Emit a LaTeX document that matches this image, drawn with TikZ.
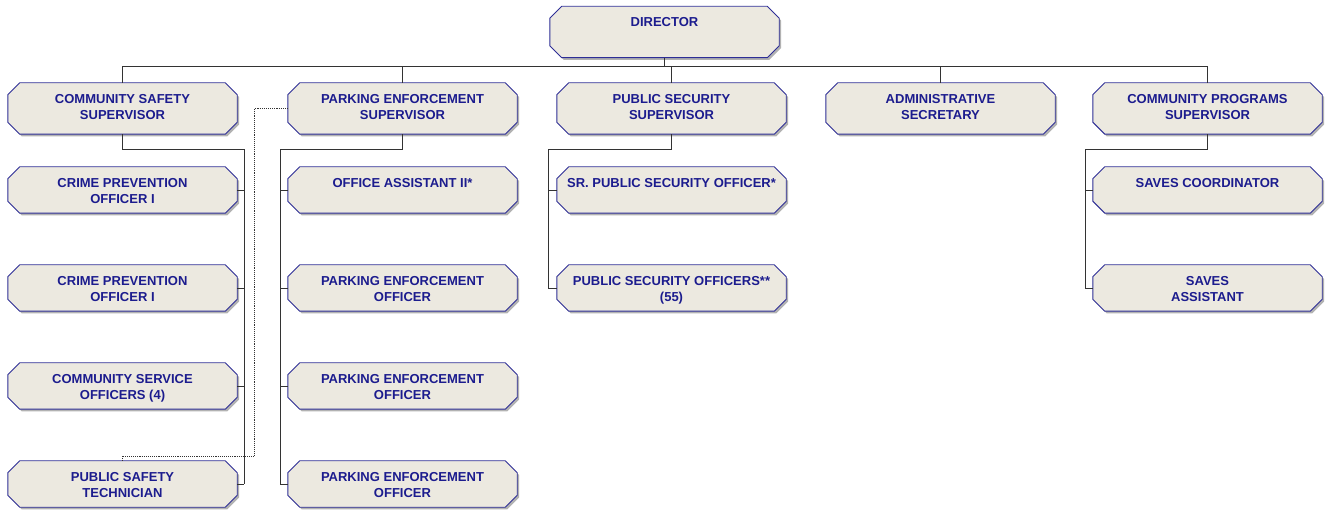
\documentclass[tikz,border=0pt]{standalone}
\usepackage{fontspec}
\setmainfont{Liberation Sans}

\definecolor{postfill}{HTML}{ECE9E0}
\definecolor{postline}{HTML}{2E2E96}
\definecolor{posttext}{HTML}{1C1C8E}

\begin{document}
\begin{tikzpicture}[
    x=1pt, y=-1pt,
    post/.style={rectangle, minimum width=229pt, minimum height=46pt, inner sep=0pt},
    head/.style={post, minimum height=51pt},
    postbox/.style={draw=postline, line width=0.9pt, fill=postfill},
    postshadow/.style={fill=black!30, transform canvas={xshift=2pt, yshift=-2.2pt}},
    title/.style={anchor=north, inner sep=0pt, yshift=-11pt, align=center, text=posttext,
      font=\fontsize{13}{16}\selectfont\bfseries},
    link/.style={draw=black!80, line width=0.9pt},
    dotlink/.style={link, densely dotted}
  ]
    \useasboundingbox (0,0) rectangle (1326,510);

    % Director and supervisors
    \node[head] (dir) at (664.5,32) {};
    \node[head] (css) at (122.5,108.5) {};
    \node[head] (pes) at (402.5,108.5) {};
    \node[head] (pss) at (671.5,108.5) {};
    \node[head] (adm) at (940.5,108.5) {};
    \node[head] (cps) at (1207.5,108.5) {};

    % Staff, column by column
    \node[post] (cpo1) at (122.5,190) {};
    \node[post] (cpo2) at (122.5,288) {};
    \node[post] (cso)  at (122.5,386) {};
    \node[post] (pst)  at (122.5,484) {};
    \node[post] (oa)   at (402.5,190) {};
    \node[post] (peo1) at (402.5,288) {};
    \node[post] (peo2) at (402.5,386) {};
    \node[post] (peo3) at (402.5,484) {};
    \node[post] (spso) at (671.5,190) {};
    \node[post] (pso)  at (671.5,288) {};
    \node[post] (sc)   at (1207.5,190) {};
    \node[post] (sa)   at (1207.5,288) {};

    % Octagon boxes with shadow
    \foreach \n in {dir,css,pes,pss,adm,cps,cpo1,cpo2,cso,pst,oa,peo1,peo2,peo3,spso,pso,sc,sa} {
      \foreach \s in {postshadow,postbox}
        \path[\s] ([xshift=12pt]\n.north west) -- ([xshift=-12pt]\n.north east)
          -- ([yshift=-12pt]\n.north east) -- ([yshift=12pt]\n.south east)
          -- ([xshift=-12pt]\n.south east) -- ([xshift=12pt]\n.south west)
          -- ([yshift=12pt]\n.south west) -- ([yshift=-12pt]\n.north west) -- cycle;
    }

    % Titles
    \foreach \n/\t in {dir/DIRECTOR,
        css/{COMMUNITY SAFETY\\SUPERVISOR}, pes/{PARKING ENFORCEMENT\\SUPERVISOR},
        pss/{PUBLIC SECURITY\\SUPERVISOR}, adm/{ADMINISTRATIVE\\SECRETARY},
        cps/{COMMUNITY PROGRAMS\\SUPERVISOR},
        cpo1/{CRIME PREVENTION\\OFFICER I}, cpo2/{CRIME PREVENTION\\OFFICER I},
        cso/{COMMUNITY SERVICE\\OFFICERS (4)}, pst/{PUBLIC SAFETY\\TECHNICIAN},
        oa/{OFFICE ASSISTANT II*}, peo1/{PARKING ENFORCEMENT\\OFFICER},
        peo2/{PARKING ENFORCEMENT\\OFFICER}, peo3/{PARKING ENFORCEMENT\\OFFICER},
        spso/{SR. PUBLIC SECURITY OFFICER*}, pso/{PUBLIC SECURITY OFFICERS**\\(55)},
        sc/{SAVES COORDINATOR}, sa/{SAVES\\ASSISTANT}}
      \node[title] (\n-t) at (\n.north) {\t};

    % Director to supervisors
    \coordinate (topbus) at (0,66);
    \draw[link] (dir.south) -- (dir.south |- topbus);
    \draw[link] (css.north) -- (css.north |- topbus) -- (cps.north |- topbus) -- (cps.north);
    \foreach \n in {pes,pss,adm}
      \draw[link] (\n.north) -- (\n.north |- topbus);

    % Supervisors to staff
    \coordinate (cssbus) at (244,149);
    \draw[link] (css.south) |- (cssbus) -- (cssbus |- pst.east);
    \foreach \n in {cpo1,cpo2,cso,pst}
      \draw[link] (\n.east) -- (\n.east -| cssbus);

    \coordinate (pesbus) at (280,149);
    \draw[link] (pes.south) |- (pesbus) -- (pesbus |- peo3.west);
    \foreach \n in {oa,peo1,peo2,peo3}
      \draw[link] (\n.west) -- (\n.west -| pesbus);

    \coordinate (pssbus) at (548,149);
    \draw[link] (pss.south) |- (pssbus) -- (pssbus |- pso.west);
    \foreach \n in {spso,pso}
      \draw[link] (\n.west) -- (\n.west -| pssbus);

    \coordinate (cpsbus) at (1085,149);
    \draw[link] (cps.south) |- (cpsbus) -- (cpsbus |- sa.west);
    \foreach \n in {sc,sa}
      \draw[link] (\n.west) -- (\n.west -| cpsbus);

    % Dotted line: technician under parking enforcement
    \coordinate (dotturn) at (254,456);
    \draw[dotlink] (pes.west) -| (dotturn) -| (pst.north);
\end{tikzpicture}
\end{document}
